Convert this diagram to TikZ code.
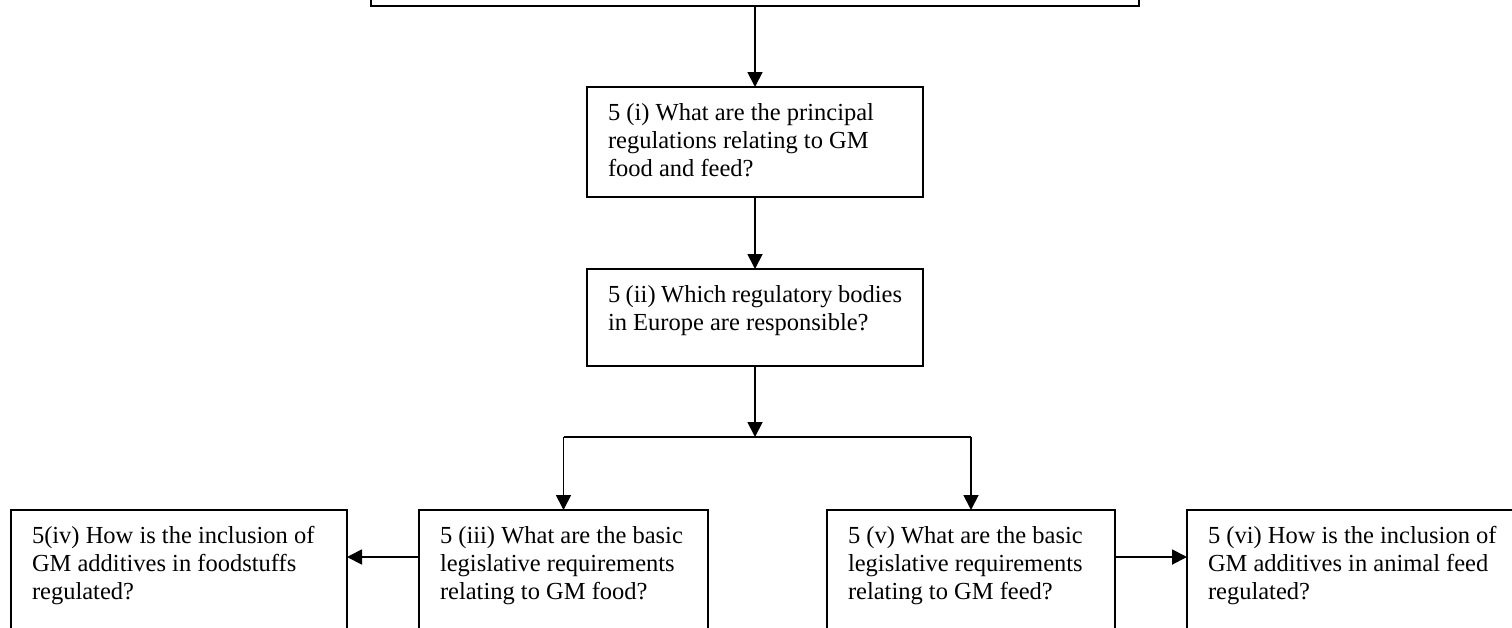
\documentclass[tikz,border=0pt]{standalone}
\usepackage{fontspec}
\setmainfont{Liberation Serif}
\usetikzlibrary{arrows.meta}
\newcommand{\boxtext}[3]{\parbox[c][#1][t]{#2}{\raggedright #3}}
\begin{document}
\begin{tikzpicture}[x=1pt,y=-1pt,
  box/.style={draw, line width=2pt, inner xsep=21pt, inner ysep=16pt, anchor=north, outer sep=0pt,
    font=\fontsize{24.5pt}{28.3pt}\selectfont},
  arr/.style={line width=1.8pt, -{Triangle[length=15pt,width=15pt]}},
  ln/.style={line width=1.8pt}]
\useasboundingbox (0,0) rectangle (1512,627);
\clip (0,0) rectangle (1512,627);
\fill[white] (0,0) rectangle (1512,627);
\node[box, anchor=south, minimum width=768pt, minimum height=60pt] (top) at (755,6) {};
\node[box] (q1) at (755,87) {\boxtext{78pt}{294pt}{5 (i) What are the principal\\ regulations relating to GM\\ food and feed?}};
\node[box] (q2) at (755,269) {\boxtext{65pt}{294pt}{5 (ii) Which regulatory bodies\\ in Europe are responsible?}};
\node[box] (q4) at (179,510) {\boxtext{128pt}{294pt}{5(iv) How is the inclusion of\\ GM additives in foodstuffs\\ regulated?}};
\node[box] (q3) at (563.5,510) {\boxtext{128pt}{247pt}{5 (iii) What are the basic\\ legislative requirements\\ relating to GM food?}};
\node[box] (q5) at (971,510) {\boxtext{128pt}{246pt}{5 (v) What are the basic\\ legislative requirements\\ relating to GM feed?}};
\node[box] (q6) at (1355,510) {\boxtext{128pt}{294pt}{5 (vi) How is the inclusion of\\ GM additives in animal feed\\ regulated?}};
\coordinate (split) at (755,437);
\coordinate (ya) at (0,557);
\draw[arr] (top.south -| q1.north) -- (q1.north);
\draw[arr] (q1.south) -- (q2.north);
\draw[arr] (q2.south) -- (split);
\draw[ln] (split -| q3.north) -- (split -| q5.north);
\draw[arr] (split -| q3.north) -- (q3.north);
\draw[arr] (split -| q5.north) -- (q5.north);
\draw[arr] (q3.west |- ya) -- (q4.east |- ya);
\draw[arr] (q5.east |- ya) -- (q6.west |- ya);
\end{tikzpicture}
\end{document}
